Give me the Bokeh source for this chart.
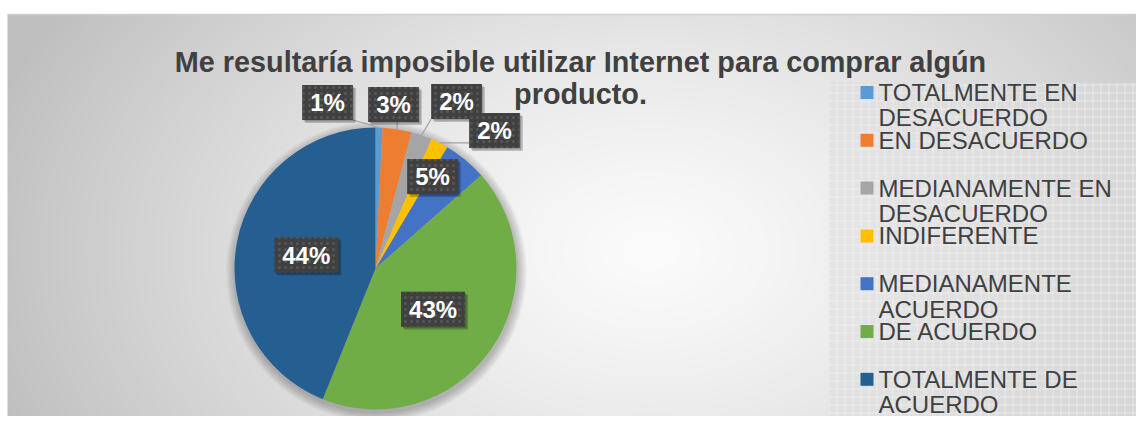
import math
import textwrap
import numpy as np
from bokeh.plotting import figure
from bokeh.models import Range1d, ColumnDataSource
from bokeh.core.properties import value
from bokeh.embed import file_html
from bokeh.resources import INLINE

# ---------------- data ----------------
TITLE = "Me resultaría imposible utilizar Internet para comprar algún producto."
CATEGORIES = [
    "TOTALMENTE EN DESACUERDO",
    "EN DESACUERDO",
    "MEDIANAMENTE EN DESACUERDO",
    "INDIFERENTE",
    "MEDIANAMENTE ACUERDO",
    "DE ACUERDO",
    "TOTALMENTE DE ACUERDO",
]
PERCENTS = [0.8, 3.3, 2.4, 2.0, 5.0, 42.6, 43.9]
COLORS = ["#5B9BD5", "#ED7D31", "#A5A5A5", "#FFC000", "#4472C4", "#70AD47", "#255E91"]

# label placement (pixel offsets from pie centre, y up); None -> inside slice
LABEL_OFFSETS = [(-48, 166), (18, 164), (81, 167), (119, 138), (57, 92), None, None]

FONT = "Liberation Sans"
W, H = 1136, 416

p = figure(width=W, height=H, x_range=Range1d(0, W), y_range=Range1d(0, H),
           output_backend="svg", toolbar_location=None, min_border=0,
           x_axis_location=None, y_axis_location=None)
p.grid.visible = False
p.outline_line_color = None
p.background_fill_color = "white"
p.border_fill_color = "white"

# ---------------- background gradient ----------------
LEFT, TOP = 7, 402
gw, gh = (W - LEFT) // 2, TOP // 2
xs = LEFT + (np.arange(gw) + 0.5) * (W - LEFT) / gw
ys = (np.arange(gh) + 0.5) * TOP / gh
X, Y = np.meshgrid(xs, ys)
SX = X
SY = H - Y
d = np.sqrt(((SX - 650) / 620) ** 2 + ((SY - 250) / 420) ** 2)
v = np.clip(251 - 52 * d ** 1.3, 190, 251).astype(np.uint8)
img = np.empty((gh, gw), dtype=np.uint32)
view = img.view(dtype=np.uint8).reshape((gh, gw, 4))
view[..., 0] = v
view[..., 1] = v
view[..., 2] = v
view[..., 3] = 255
p.image_rgba(image=[img], x=LEFT, y=0, dw=W - LEFT, dh=TOP)
p.segment(x0=[LEFT], y0=[TOP], x1=[W], y1=[TOP], line_color="#cfcfcf", line_width=1.5)

# legend panel
p.quad(left=[828], right=[W], bottom=[0], top=[334], fill_color="#dcdcdc", fill_alpha=0.55,
       line_color=None, hatch_pattern="+", hatch_color="white", hatch_alpha=0.35,
       hatch_scale=8, hatch_weight=1)

# ---------------- pie ----------------
cx, cy, R = 375, 148, 141
for k in range(8):
    p.circle(x=[cx + 1], y=[cy - 3], radius=R + 1 + k * 1.2, fill_color="black",
             fill_alpha=0.03, line_color=None)

total = sum(PERCENTS)
fr = [v_ / total for v_ in PERCENTS]
cum = np.concatenate([[0], np.cumsum(fr)])
starts = [math.pi / 2 - 2 * math.pi * cum[i + 1] for i in range(len(fr))]
ends = [math.pi / 2 - 2 * math.pi * cum[i] for i in range(len(fr))]
src = ColumnDataSource(dict(start=starts, end=ends, color=COLORS, cat=CATEGORIES))
p.wedge(x=cx, y=cy, radius=R, start_angle="start", end_angle="end", direction="anticlock",
        fill_color="color", line_color=None, source=src)

# ---------------- data labels ----------------
labels = [f"{round(v_)}%" for v_ in PERCENTS]
lx, ly, bw, bh = [], [], [], []
lead_x0, lead_y0, lead_x1, lead_y1 = [], [], [], []
for i, lab in enumerate(labels):
    mid = 2 * math.pi * (cum[i] + cum[i + 1]) / 2
    if LABEL_OFFSETS[i] is None:
        x = cx + 0.5 * R * math.sin(mid)
        y = cy + 0.5 * R * math.cos(mid)
    else:
        x = cx + LABEL_OFFSETS[i][0]
        y = cy + LABEL_OFFSETS[i][1]
    w = 24 * (0.556 * (len(lab) - 1) + 0.889) + 16
    h = 35
    lx.append(x); ly.append(y); bw.append(w); bh.append(h)
    dist = math.hypot(x - cx, y - cy)
    if dist > R:
        ax = cx + R * math.sin(mid)
        ay = cy + R * math.cos(mid)
        nx = min(max(ax, x - w / 2), x + w / 2)
        ny = min(max(ay, y - h / 2), y + h / 2)
        lead_x0.append(ax); lead_y0.append(ay); lead_x1.append(nx); lead_y1.append(ny)

p.segment(x0=lead_x0, y0=lead_y0, x1=lead_x1, y1=lead_y1, line_color="#a0a0a0", line_width=1.2)
p.rect(x=[a + 3 for a in lx], y=[b - 3 for b in ly], width=bw, height=bh,
       fill_color="black", fill_alpha=0.2, line_color=None)
p.rect(x=[a + 1.5 for a in lx], y=[b - 1.5 for b in ly], width=bw, height=bh,
       fill_color="black", fill_alpha=0.2, line_color=None)
p.rect(x=lx, y=ly, width=bw, height=bh, fill_color="#404040", line_color=None,
       hatch_pattern="dot", hatch_color="#575757", hatch_scale=6, hatch_weight=1.2)
p.text(x=lx, y=ly, text=labels, text_font=value(FONT), text_font_style="bold",
       text_font_size="24px", text_color="white", text_align="center", text_baseline="middle")

# ---------------- title ----------------
tlines = textwrap.wrap(TITLE, 60)
p.text(x=[580] * len(tlines), y=[354.3 - 31.6 * i for i in range(len(tlines))], text=tlines,
       text_font=value(FONT), text_font_style="bold", text_font_size="28.8px",
       text_color="#404040", text_align="center", text_baseline="alphabetic")

# ---------------- legend ----------------
LEG_X, LEG_Y0, LEG_DY, LINE_H = 866.5, 324, 47.8, 25.3
mx = [LEG_X] * len(CATEGORIES)
my = [LEG_Y0 - LEG_DY * i for i in range(len(CATEGORIES))]
p.rect(x=mx, y=my, width=13, height=13, fill_color=COLORS, line_color=None)
tx, ty, tt = [], [], []
for i, cat in enumerate(CATEGORIES):
    for j, line in enumerate(textwrap.wrap(cat, 15)):
        tx.append(LEG_X + 11.5)
        ty.append(my[i] - LINE_H * j)
        tt.append(line)
p.text(x=tx, y=ty, text=tt, text_font=value(FONT), text_font_size="24px",
       text_color="#404040", text_align="left", text_baseline="middle")

open("out.html", "w").write(file_html(p, INLINE))
